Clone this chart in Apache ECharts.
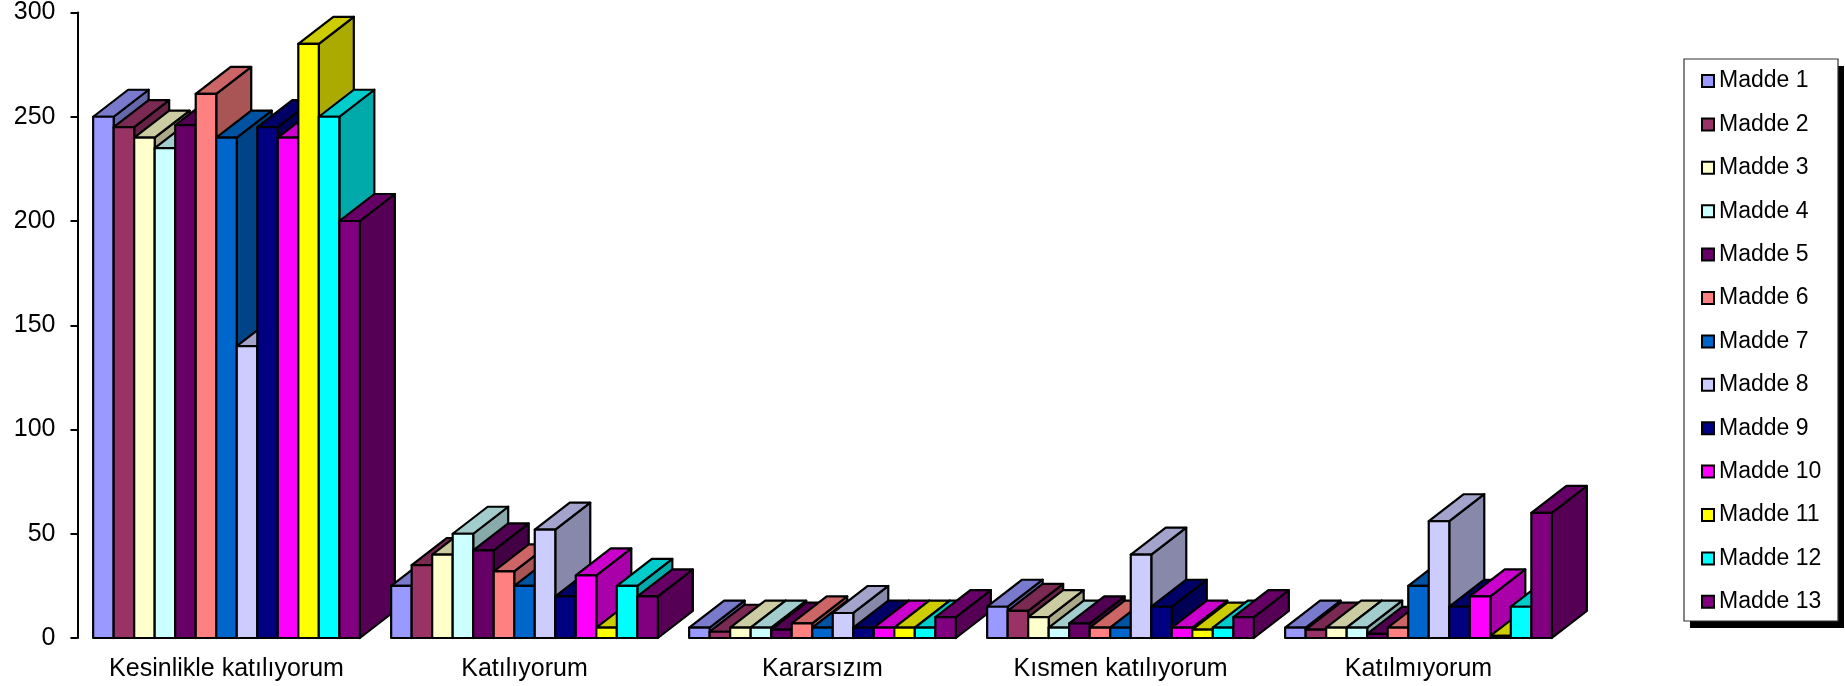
<!DOCTYPE html>
<html>
<head>
<meta charset="utf-8">
<style>html,body{margin:0;padding:0;background:#fff}#c{width:1845px;height:686px}</style>
<script src="https://cdn.jsdelivr.net/npm/echarts@6/dist/echarts.min.js"></script>
</head>
<body>
<div id="c"></div>
<script>
const categories = ['Kesinlikle katılıyorum', 'Katılıyorum', 'Kararsızım', 'Kısmen katılıyorum', 'Katılmıyorum'];
const names = ['Madde 1','Madde 2','Madde 3','Madde 4','Madde 5','Madde 6','Madde 7','Madde 8','Madde 9','Madde 10','Madde 11','Madde 12','Madde 13'];
const madde1  = [250, 25, 5, 15, 5];
const madde2  = [245, 35, 3, 13, 4];
const madde3  = [240, 40, 5, 10, 5];
const madde4  = [235, 50, 5, 5, 5];
const madde5  = [246, 42, 4, 7, 2];
const madde6  = [261, 32, 7, 5, 5];
const madde7  = [240, 25, 5, 5, 25];
const madde8  = [140, 52, 12, 40, 56];
const madde9  = [245, 20, 5, 15, 15];
const madde10 = [240, 30, 5, 5, 20];
const madde11 = [285, 5, 5, 4, 1];
const madde12 = [250, 25, 5, 5, 15];
const madde13 = [200, 20, 10, 10, 60];
const allValues = [madde1,madde2,madde3,madde4,madde5,madde6,madde7,madde8,madde9,madde10,madde11,madde12,madde13];
const colors = ['#9999FF','#993366','#FFFFCC','#CCFFFF','#660066','#FF8080','#0066CC','#CCCCFF','#000080','#FF00FF','#FFFF00','#00FFFF','#800080'];
const yTicks = {min: 0, max: 300, interval: 50};

const FONT = '"Liberation Sans", Arial, sans-serif';
const DX = 35, DY = 27, GROUP_FILL = 0.895, LINE = 2.2;

function shade(hex, f) {
  const n = parseInt(hex.slice(1), 16);
  const c = [n >> 16 & 255, n >> 8 & 255, n & 255].map(v => Math.round(v * f));
  return 'rgb(' + c.join(',') + ')';
}

function makeRender(si) {
  const color = colors[si];
  return function (params, api) {
    const cat = api.value(0), val = api.value(1);
    const top = api.coord([cat, val]);
    const base = api.coord([cat, 0]);
    const band = api.size([1, 0])[0];
    const w = band * GROUP_FILL / names.length;
    const x = top[0] - band * GROUP_FILL / 2 + si * w;
    const y = top[1], y0 = base[1];
    const z = cat * 100 + si * 4;
    const st = fill => ({fill, stroke: '#000', lineWidth: LINE, lineJoin: 'round'});
    return {
      type: 'group',
      children: [
        {type: 'polygon', z2: z + 1, shape: {points: [[x + w, y], [x + w + DX, y - DY], [x + w + DX, y0 - DY], [x + w, y0]]}, style: st(shade(color, 0.667))},
        {type: 'polygon', z2: z + 2, shape: {points: [[x, y], [x + w, y], [x + w + DX, y - DY], [x + DX, y - DY]]}, style: st(shade(color, 0.8))},
        {type: 'rect', z2: z + 3, shape: {x, y, width: w, height: y0 - y}, style: st(color)}
      ]
    };
  };
}

const chart = echarts.init(document.getElementById('c'), null, {renderer: 'canvas'});
chart.setOption({
  animation: false,
  backgroundColor: '#fff',
  grid: {left: 77.5, top: 12.5, width: 1490, height: 625.5, containLabel: false, outerBoundsMode: 'none'},
  xAxis: {
    type: 'category', data: categories,
    axisLine: {show: false}, axisTick: {show: false}, splitLine: {show: false},
    axisLabel: {interval: 0, color: '#000', fontFamily: FONT, fontSize: 25, margin: 19, hideOverlap: false}
  },
  yAxis: {
    type: 'value', min: yTicks.min, max: yTicks.max, interval: yTicks.interval,
    axisLine: {show: true, lineStyle: {color: '#000', width: 2}},
    axisTick: {show: true, length: 7, lineStyle: {color: '#000', width: 2}},
    splitLine: {show: false},
    axisLabel: {color: '#000', fontFamily: FONT, fontSize: 25, margin: 22, padding: [2, 0, 0, 0]}
  },
  graphic: [
    {type: 'rect', z: 1, silent: true, shape: {x: 1690, y: 66, width: 154, height: 562}, style: {fill: '#000'}},
    {type: 'rect', z: 1, silent: true, shape: {x: 1684, y: 59, width: 154, height: 562}, style: {fill: '#fff', stroke: '#333', lineWidth: 1.2}}
  ],
  legend: {
    show: true, orient: 'vertical', left: 1684, top: 59,
    data: names, icon: 'rect', itemWidth: 12, itemHeight: 12, itemGap: 20.4,
    padding: [10.5, 18, 9.5, 17],
    selectedMode: false,
    textStyle: {color: '#000', fontFamily: FONT, fontSize: 23},
    itemStyle: {borderColor: '#000', borderWidth: 2}
  },
  series: names.map((name, si) => ({
    name, type: 'custom', coordinateSystem: 'cartesian2d',
    renderItem: makeRender(si),
    encode: {x: 0, y: 1},
    itemStyle: {color: colors[si]},
    data: categories.map((c, ci) => [ci, allValues[si][ci]])
  }))
});
</script>
</body>
</html>
